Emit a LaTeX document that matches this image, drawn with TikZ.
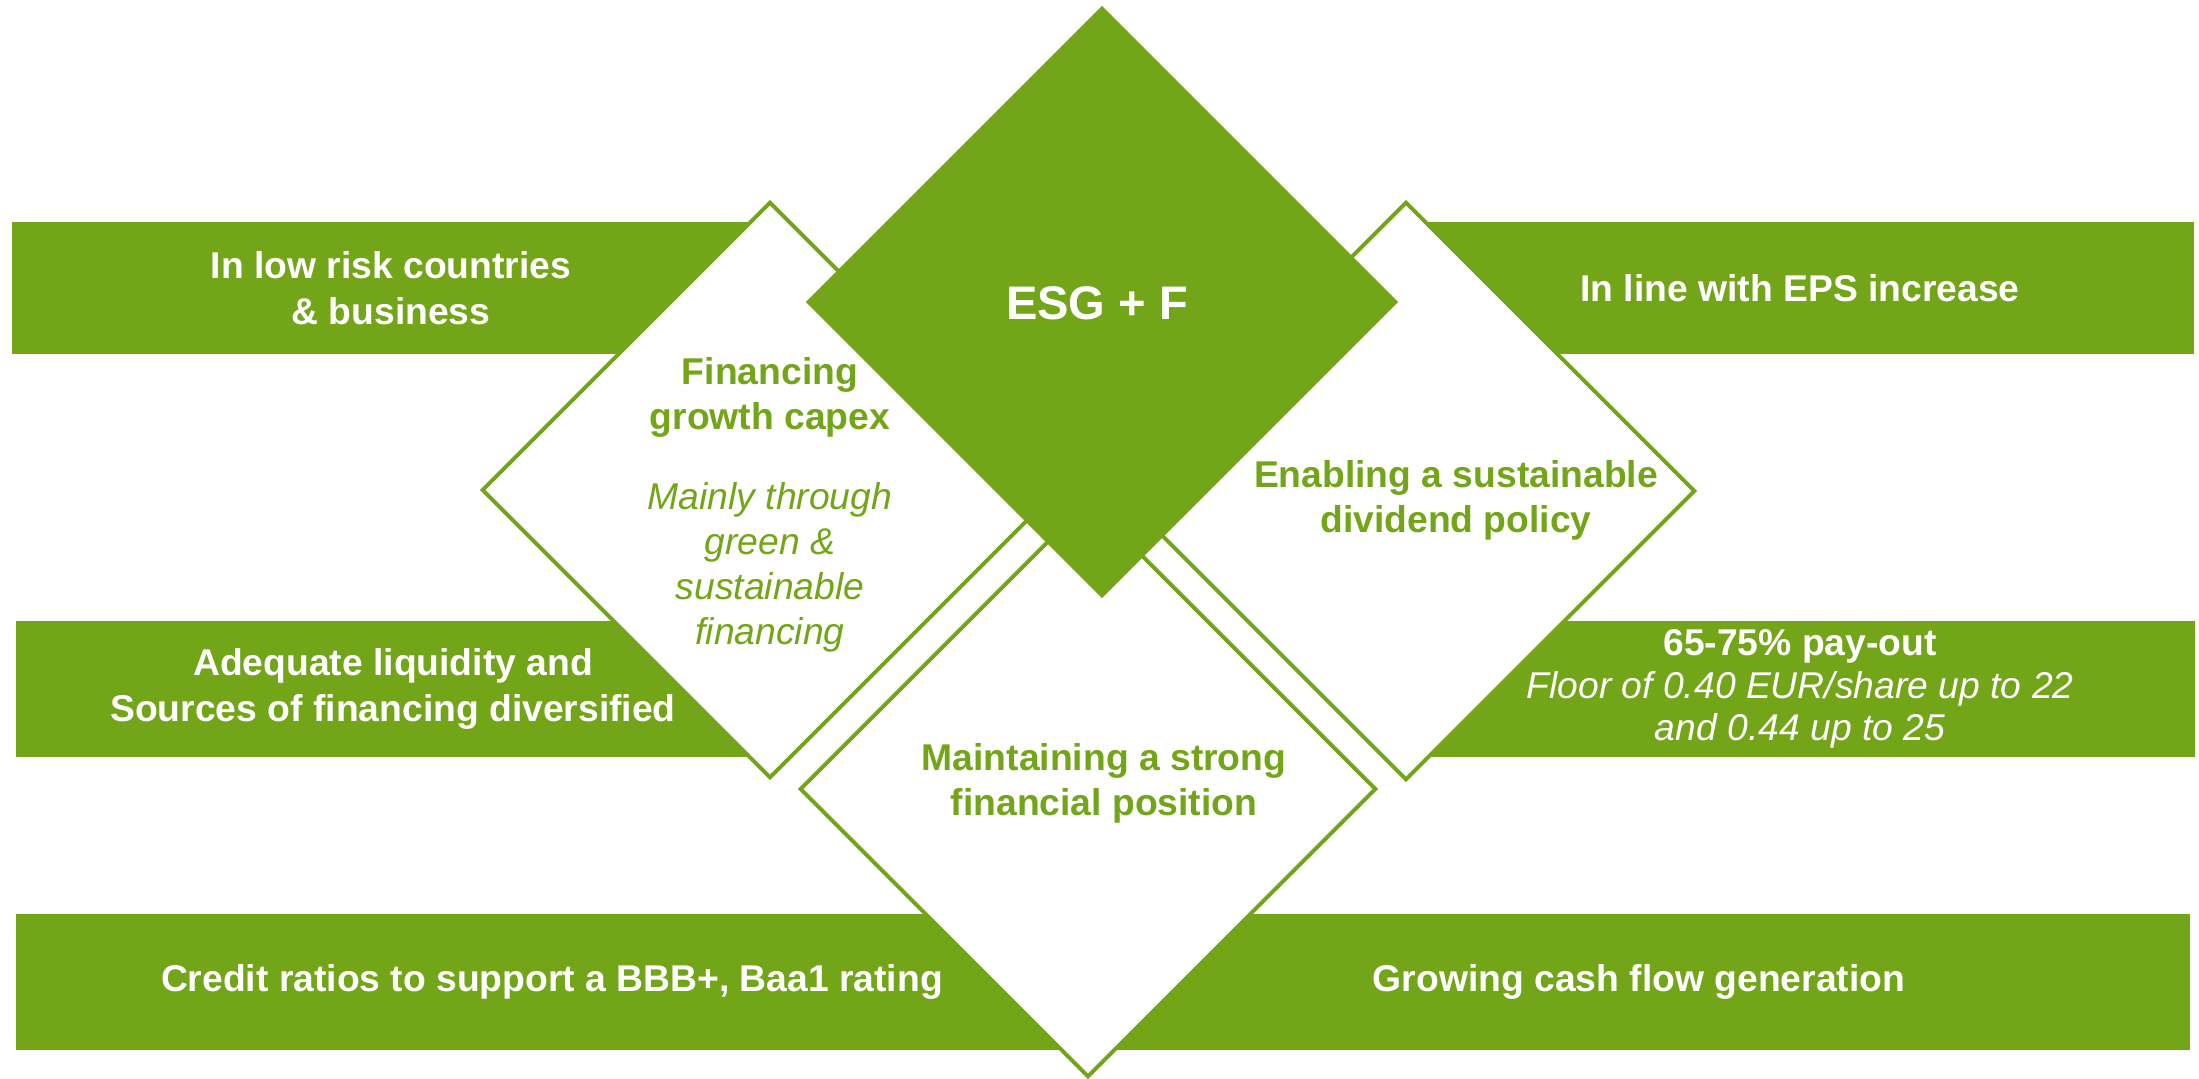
\documentclass[tikz,border=0pt]{standalone}
\usepackage{fontspec}
\setmainfont{Liberation Sans}
\usetikzlibrary{shapes.geometric}
\definecolor{leaf}{RGB}{115,165,24}

\tikzset{
  bar/.style={fill=leaf, text=white, font=\fontsize{10.6}{13}\selectfont\bfseries, align=center, inner sep=0pt},
  pillar/.style={shape=diamond, draw=leaf, line width=1.1pt, fill=white, inner sep=0pt, minimum width=5.76cm, minimum height=5.76cm},
  pillartext/.style={text=leaf, font=\fontsize{10.6}{12.8}\selectfont\bfseries, align=center},
}

\begin{document}
\begin{tikzpicture}[x=0.01cm, y=-0.01cm]
		\useasboundingbox (0,0) rectangle (2199,1078);
		
		% the six bars behind the diamonds
		\node[bar, minimum width=7.57cm, minimum height=1.31cm] (lowrisk) at (391,288) {In low risk countries\\\& business};
		\node[bar, minimum width=7.53cm, minimum height=1.36cm] (liquidity) at (393,689) {Adequate liquidity and\\Sources of financing diversified};
		\node[bar, minimum width=10.71cm, minimum height=1.36cm] (credit) at (552,982) {Credit ratios to support a BBB+, Baa1 rating};
		\node[bar, minimum width=7.88cm, minimum height=1.31cm] (eps) at (1800,288) {In line with EPS increase};
		\node[bar, font=\fontsize{10.6}{12.1}\selectfont\bfseries, minimum width=7.89cm, minimum height=1.36cm] (payout) at (1800,689) {65-75\% pay-out\\{\normalfont\itshape Floor of 0.40 EUR/share up to 22}\\{\normalfont\itshape and 0.44 up to 25}};
		\node[bar, minimum width=11.02cm, minimum height=1.36cm] (cashflow) at (1639,982) {Growing cash flow generation};
		
		% outlined diamonds
		\node[pillar] (capex) at (770,490) {};
		\node[pillar, minimum width=5.78cm, minimum height=5.78cm] (dividend) at (1406,491) {};
		\node[pillar] (position) at (1088,789) {};
		
		% centre diamond on top
		\node[pillar, fill=leaf, minimum width=5.88cm, minimum height=5.88cm] (esg) at (1102,302) {};
		\node[text=white, font=\fontsize{13.4}{15}\selectfont\bfseries] (esglabel) at (1097,303) {ESG + F};
		
		% diamond labels
		\node[pillartext] (capexlabel) at (770,505) {Financing\\growth capex\\[10pt]{\normalfont\itshape Mainly through}\\{\normalfont\itshape green \&}\\{\normalfont\itshape sustainable}\\{\normalfont\itshape financing}};
		\node[pillartext] (dividendlabel) at (1456,500) {Enabling a sustainable\\dividend policy};
		\node[pillartext] (positionlabel) at (1104,783) {Maintaining a strong\\financial position};
\end{tikzpicture}
\end{document}
